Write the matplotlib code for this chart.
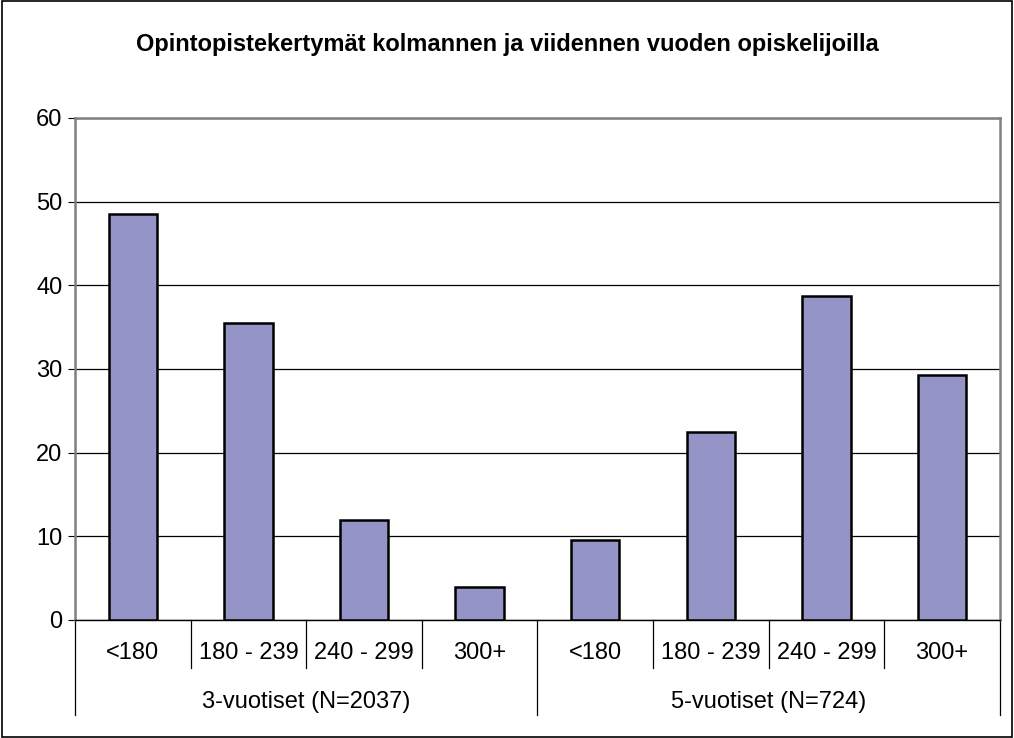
import matplotlib
matplotlib.use("Agg")
import matplotlib.pyplot as plt
from matplotlib.patches import Rectangle

# Data
groups = ["3-vuotiset (N=2037)", "5-vuotiset (N=724)"]
categories = ["<180", "180 - 239", "240 - 299", "300+"]
values_3 = [48.5, 35.5, 12.0, 4.0]
values_5 = [9.6, 22.5, 38.7, 29.3]
yticks = [0, 10, 20, 30, 40, 50, 60]

plt.rcParams["font.family"] = ["Liberation Sans", "DejaVu Sans"]
fs = 17

fig = plt.figure(figsize=(10.14, 7.38), dpi=100)
ax = fig.add_axes([0.074, 0.1599, 0.912, 0.6803])

values = values_3 + values_5
labels = categories + categories
x = list(range(len(values)))

ax.bar(x, values, width=0.42, color="#9494C6", edgecolor="black", linewidth=1.8, zorder=3)

ax.set_xlim(-0.5, len(values) - 0.5)
ax.set_ylim(0, 60)
ax.set_yticks(yticks)
ax.tick_params(axis="y", direction="out", length=5, labelsize=fs, pad=4)
ax.set_xticks([])
ax.yaxis.grid(True, color="black", linewidth=0.9, zorder=0)

for side in ["top", "right"]:
    ax.spines[side].set_color("#808080")
    ax.spines[side].set_linewidth(1.8)
ax.spines["left"].set_color("#808080")
ax.spines["left"].set_linewidth(1.8)
ax.spines["bottom"].set_color("black")
ax.spines["bottom"].set_linewidth(1.0)

# Hierarchical category axis below the plot
tr = ax.get_xaxis_transform()
cat_bottom = -0.096
grp_bottom = -0.189
for i, lab in enumerate(labels):
    ax.text(i, -0.065, lab, transform=tr, ha="center", va="center", fontsize=fs)
for b in [i + 0.5 for i in range(len(values) - 1)]:
    if b == len(categories) - 0.5:
        continue
    ax.plot([b, b], [0, cat_bottom], transform=tr, color="black", linewidth=0.9, clip_on=False)
for b in [-0.5, len(categories) - 0.5, len(values) - 0.5]:
    ax.plot([b, b], [0, grp_bottom], transform=tr, color="black", linewidth=0.9, clip_on=False)
for g, name in enumerate(groups):
    cx = g * len(categories) + (len(categories) - 1) / 2
    ax.text(cx, -0.163, name, transform=tr, ha="center", va="center", fontsize=fs)

fig.text(0.5, 1 - 45 / 738, "Opintopistekertymät kolmannen ja viidennen vuoden opiskelijoilla",
         ha="center", va="center", fontsize=fs, fontweight="bold")

fig.patches.append(Rectangle((0.002, 0.002), 0.996, 0.996, transform=fig.transFigure,
                             fill=False, edgecolor="black", linewidth=1.2))

fig.savefig("out.png", dpi=100)
